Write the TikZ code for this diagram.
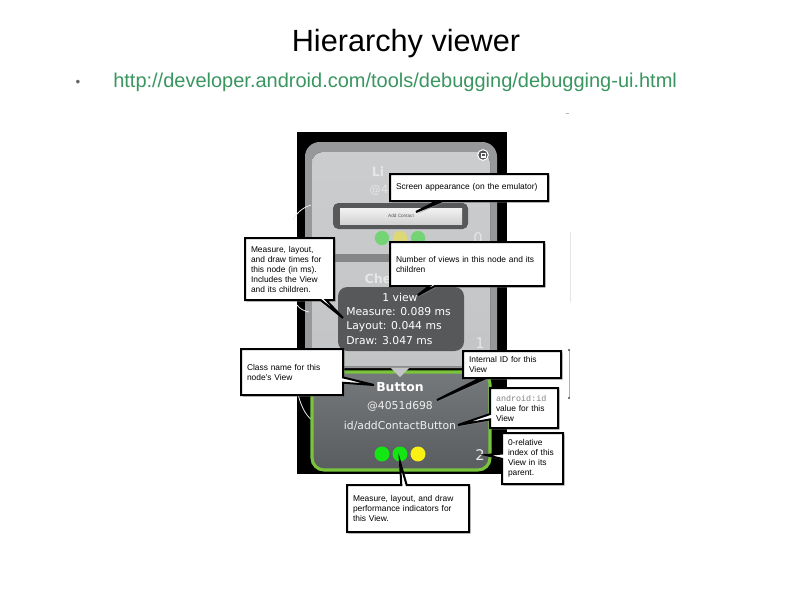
\documentclass[tikz,border=0pt]{standalone}
\usepackage{fontspec}
\setmainfont{Liberation Sans}
\newfontfamily\dvfont{DejaVu Sans}
\newfontfamily\codefont{Liberation Mono}
\usetikzlibrary{shapes.callouts,shadows}
\definecolor{urlgreen}{RGB}{58,150,96}
\definecolor{rimgray}{RGB}{150,152,154}
\definecolor{panegray}{RGB}{194,196,197}
\definecolor{bandgray}{RGB}{132,134,136}
\definecolor{tipgray}{RGB}{86,88,90}
\definecolor{btngreen}{RGB}{120,196,58}
\definecolor{btntop}{RGB}{118,121,124}
\definecolor{btnbottom}{RGB}{90,93,96}
\definecolor{fadetext}{RGB}{228,230,231}
\definecolor{dotgreen}{RGB}{20,230,20}
\definecolor{dotyellow}{RGB}{250,240,20}

\begin{document}
\begin{tikzpicture}[x=0.75pt,y=-0.75pt,
  note/.style={rectangle callout,draw,line width=1.5pt,fill=white,anchor=north west,
    align=left,inner xsep=4.5pt,inner ysep=1pt,callout pointer width=4pt,
    drop shadow={shadow xshift=1.2pt,shadow yshift=-1.2pt,opacity=.6},
    font=\fontsize{6.3}{7.5}\selectfont},
  ghost/.style={text=fadetext,inner sep=0pt,font=\dvfont\bfseries\fontsize{9.5}{11}\selectfont},
  stat/.style={text=white,inner sep=0pt,font=\dvfont\fontsize{8.1}{9}\selectfont}]
  \fill[white] (0,0) rectangle (800,600);
  \useasboundingbox (0,0) rectangle (800,600);

  \node[font=\fontsize{23}{27}\selectfont] (title) at (406,44) {Hierarchy viewer};
  \node[font=\fontsize{10}{12}\selectfont,text=gray!80!black] (bullet) at (78,83) {\textbullet};
  \node[font=\fontsize{15}{18}\selectfont,text=urlgreen,anchor=west,inner sep=0pt] (url) at (113,82)
    {http://developer.android.com/tools/debugging/debugging-ui.html};

  \fill[black] (297,132) rectangle (507,474);
  \fill[rimgray,rounded corners=11pt] (305,142) rectangle (497,368);
  \fill[top color=panegray!85!white,bottom color=panegray,rounded corners=8pt] (312,152) rectangle (490,366);
  \fill[bandgray] (305,254) rectangle (497,262);
  \draw[white!85!gray,line width=.6pt] (293,220) .. controls (298,211) and (304,207) .. (311,205);
  \draw[white!85!gray,line width=.6pt] (297,305) .. controls (300,309) and (304,311) .. (309,312);
  \draw[white!85!gray,line width=.6pt] (297,390) .. controls (300,404) and (305,415) .. (312,420);

  \node[ghost] (lv) at (378,172) {Li};
  \node[ghost,font=\dvfont\fontsize{8.5}{10}\selectfont] (lvid) at (379,190) {@4};
  \fill[tipgray,rounded corners=4pt] (333,203) rectangle (468,229);
  \fill[top color=gray!10,bottom color=gray!35] (340,208) rectangle (462,224);
  \node[font=\fontsize{3.5}{4}\selectfont,text=gray!70!black] (addtxt) at (401,216) {Add Contact};
  \foreach \x/\c in {382/dotgreen,400/dotyellow,418/dotgreen}
    \fill[\c!45!panegray] (\x,238) circle (5.4pt);
  \node[ghost,font=\dvfont\fontsize{11}{12}\selectfont] (zero) at (478,238) {0};
  \node[ghost] (cb) at (378,279) {Che};
  \node[ghost,font=\dvfont\fontsize{11}{12}\selectfont] (one) at (480,343) {1};
  \filldraw[fill=gray!65!black,draw=white,line width=.8pt] (483,155) circle (4pt);
  \fill[white] (480.5,152.5) rectangle (485.5,157.5);
  \fill[gray!65!black] (481.5,154) rectangle (484.5,156);

  \fill[tipgray,rounded corners=7pt] (338,287) rectangle (464,351);
  \node[stat] (views) at (400,297) {1 view};
  \foreach \s/\y in {Measure: 0.089 ms/312,Layout: 0.044 ms/327,Draw: 3.047 ms/341}
    \node[stat,anchor=west] (stat\y) at (346,\y) {\s};

  \filldraw[draw=btngreen,line width=2.3pt,top color=btntop,bottom color=btnbottom,
    rounded corners=9pt] (312,372) rectangle (490,470);
  \fill[panegray] (391,368) -- (409,368) -- (400,377) -- cycle;
  \node[text=white,inner sep=0pt,font=\dvfont\bfseries\fontsize{9.3}{11}\selectfont] (btn) at (400,387) {Button};
  \node[stat,text=gray!12] (btnid) at (400,406) {@4051d698};
  \node[stat,text=gray!12] (btnname) at (400,426) {id/addContactButton};
  \foreach \x/\c in {382/dotgreen,400/dotgreen,418/dotyellow}
    \fill[\c] (\x,454) circle (5.6pt);
  \node[ghost,text=gray!15,font=\dvfont\fontsize{11}{12}\selectfont] (two) at (480,455) {2};

  \draw[gray!20] (570,232) -- (570,302);
  \draw[gray!60,line width=.5pt] (569,350) -- (569,398);
  \fill[gray!60!black] (569,350) circle (.9pt) (569,398) circle (.9pt);
  \draw[gray!60] (566,113) -- (569,113);

  \coordinate (addbtn) at (416,212);
  \coordinate (timestip) at (343,318);
  \coordinate (viewstip) at (418,295);
  \coordinate (classtip) at (374,385);
  \coordinate (idtip) at (437,400);
  \coordinate (nametip) at (458,425);
  \coordinate (indextip) at (486,455);
  \coordinate (dotstip) at (400,462);

  \foreach \nm/\x/\y/\w/\h/\tip/\txt in {
    screen/389/173/158/27/addbtn/{Screen appearance (on the emulator)},
    times/244/237/89/62/timestip/{Measure, layout,\\and draw times for\\this node (in ms).\\Includes the View\\and its children.},
    views/389/241/154/44/viewstip/{Number of views in this node and its\\children},
    class/240/348/102/46/classtip/{Class name for this\\node's View},
    internal/462/350/98/27/idtip/{Internal ID for this\\View},
    andid/489/387/68/40/nametip/{{\codefont\color{gray}android:id}\\value for this\\View},
    index/501/432/61/51/indextip/{0-relative\\index of this\\View in its\\parent.},
    perf/346/484/122/47/dotstip/{Measure, layout, and draw\\performance indicators for\\this View.}}
  {
    \pgfmathsetmacro\tw{0.75*\w-9}
    \pgfmathsetmacro\th{0.75*\h}
    \node[note,text width=\tw pt,minimum height=\th pt,callout absolute pointer=(\tip)] (note\nm) at (\x,\y) {\txt};
  }
\end{tikzpicture}
\end{document}
